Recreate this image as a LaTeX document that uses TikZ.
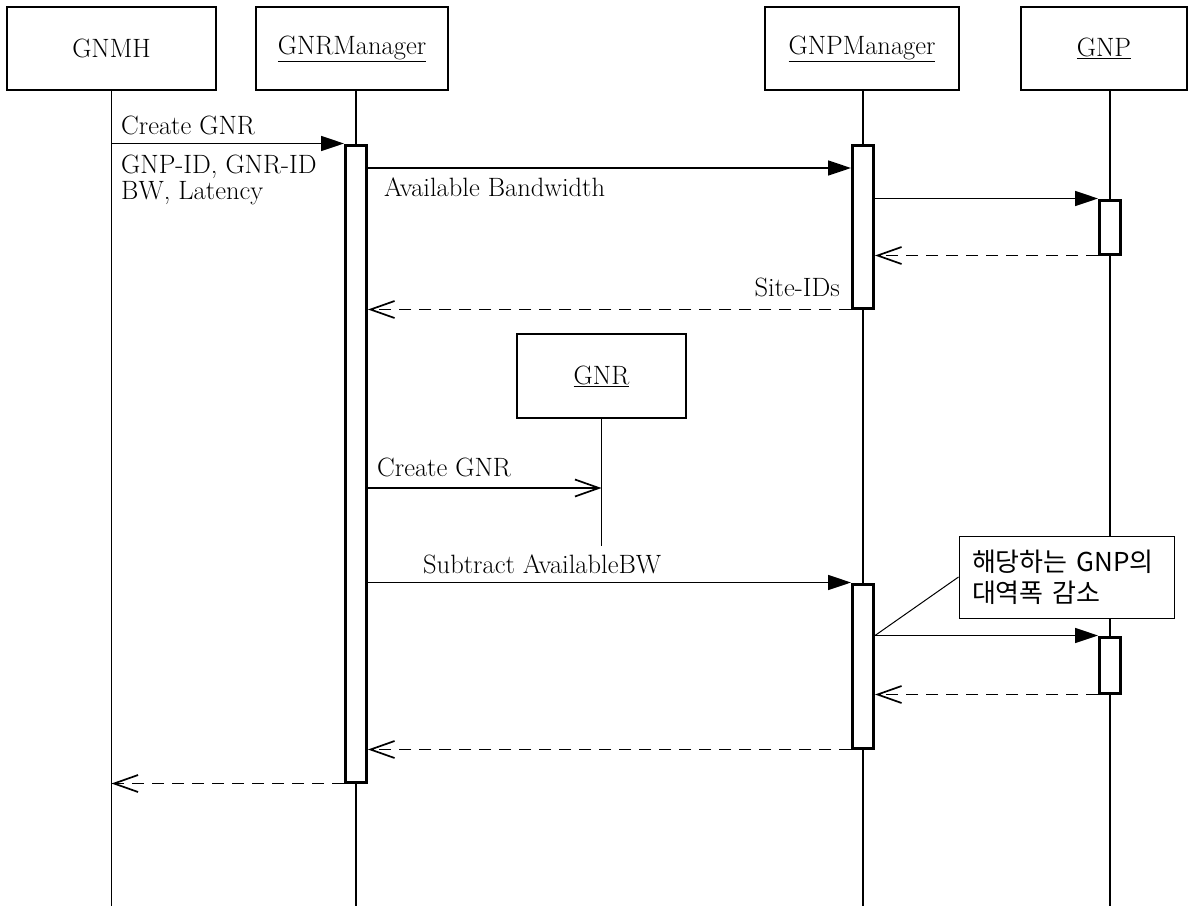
\documentclass[tikz,border=0pt]{standalone}
\usepackage{fontspec}
\newfontfamily\krfont{Noto Sans CJK KR}
\usetikzlibrary{arrows.meta}
\begin{document}
\begin{tikzpicture}[x=1pt,y=-1pt,
  font=\fontsize{26.5}{26}\selectfont,
  actor/.style={draw, line width=2.8pt, minimum height=83pt, inner sep=0pt},
  life/.style={line width=1.6pt},
  actbar/.style={draw, fill=white, line width=3pt, minimum width=21pt, inner sep=0pt},
  call/.style={line width=1.7pt, -{Triangle[length=23pt,width=15pt]}},
  create/.style={line width=1.7pt, -{Straight Barb[length=24pt,width=17pt,line width=1.7pt]}},
  reply/.style={line width=1.7pt, dash pattern=on 12pt off 8pt,
                -{Straight Barb[length=24pt,width=17pt,line width=1.7pt]}},
  lbl/.style={inner sep=0pt},
  memo/.style={draw, line width=1pt, fill=white, inner xsep=13pt, inner ysep=4pt,
               minimum width=215pt, minimum height=82pt, text width=189pt, align=left,
               font=\krfont\fontsize{26}{31}\selectfont},
]
\useasboundingbox (0,0) rectangle (1189,906);

% participants
\node[actor, minimum width=209pt] (gnmh) at (111.5,48.5) {GNMH};
\node[actor, minimum width=192pt] (gnrm) at (352,48.5) {\underline{GNRManager}};
\node[actor, minimum width=194pt] (gnpm) at (862,48.5) {\underline{GNPManager}};
\node[actor, minimum width=166pt] (gnp) at (1104,48.5) {\underline{GNP}};
\node[actor, minimum width=169pt, minimum height=84pt] (gnr) at (601.5,376) {\underline{GNR}};

% activation bars (positions only, drawn after the lifelines)
\path
  node[actbar, minimum height=637pt] (rA) at (356,463.5) {}
  node[actbar, minimum height=163pt] (pA) at (863,226.5) {}
  node[actbar, minimum height=54pt]  (gA) at (1110,227) {}
  node[actbar, minimum height=164pt] (pB) at (863,666) {}
  node[actbar, minimum height=56pt]  (gB) at (1110,665) {};

% lifelines
\draw[life] (gnmh.south) -- (gnmh.south |- 0,906);
\draw[life] (rA.center |- gnrm.south) -- (rA.center |- 0,906);
\draw[life] (pA.center |- gnpm.south) -- (pA.center |- 0,906);
\draw[life] (gA.center |- gnp.south) -- (gA.center |- 0,906);
\draw[life] (gnr.south) -- (gnr.south |- 0,546);

% bars on top of lifelines
\node[actbar, minimum height=637pt] at (rA) {};
\node[actbar, minimum height=163pt] at (pA) {};
\node[actbar, minimum height=54pt]  at (gA) {};
\node[actbar, minimum height=164pt] at (pB) {};
\node[actbar, minimum height=56pt]  at (gB) {};

% messages
\draw[call] (gnmh.south |- rA.north) -- (rA.north west);
\node[lbl, anchor=base west] (m1) at (121,134) {Create GNR};
\node[lbl, anchor=north west, align=left] (m1b) at (121,155) {GNP-ID, GNR-ID\\BW, Latency};

\draw[call] (rA.east |- 0,168) -- (pA.west |- 0,168);
\node[lbl, anchor=base west] (m2) at (384,196) {Available Bandwidth};

\draw[call] (pA.east |- gA.north) -- (gA.north west);
\draw[reply] (gA.south west) -- (pA.east |- gA.south);

\draw[reply] (pA.south west) -- (rA.east |- pA.south);
\node[lbl, anchor=base east] (m3) at (840,296) {Site-IDs};

\draw[create] (rA.east |- 0,488) -- (gnr.south |- 0,488);
\node[lbl, anchor=base west] (m4) at (377,476) {Create GNR};

\draw[call] (rA.east |- pB.north) -- (pB.north west);
\node[lbl, anchor=base west] (m5) at (423,573) {Subtract AvailableBW};

\draw[call] (pB.east |- gB.north) -- (gB.north west);
\draw[reply] (gB.south west) -- (pB.east |- gB.south);
\draw[reply] (pB.south west) -- (rA.east |- pB.south);
\draw[reply] (rA.south west) -- (gnmh.south |- rA.south);

% note
\node[memo] (note) at (1066.5,577) {해당하는 GNP의\\대역폭 감소};
\draw[line width=1pt] (pB.east |- gB.north) -- (note.west);
\end{tikzpicture}
\end{document}
